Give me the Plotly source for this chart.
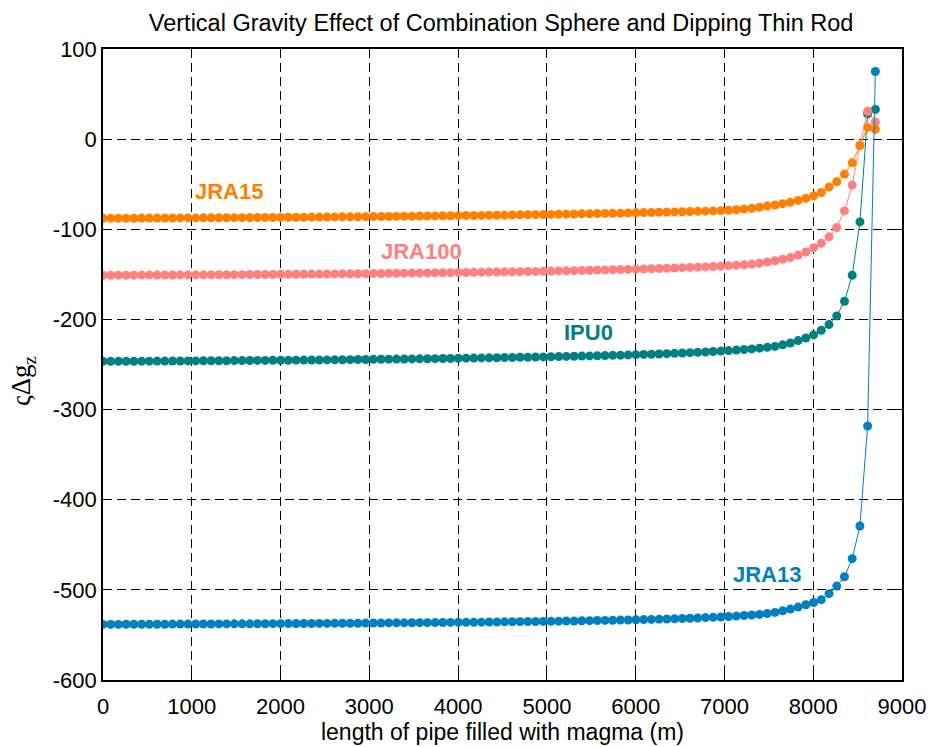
import plotly.graph_objects as go

# Sampling grid along the pipe (m): 101 stations, 87 m apart
length_m = list(range(0, 8701, 87))

jra15 = [
    -87.8, -87.8, -87.7, -87.7, -87.7, -87.6, -87.6, -87.6, -87.5, -87.5,
    -87.4, -87.4, -87.4, -87.3, -87.3, -87.2, -87.2, -87.1, -87.1, -87.0,
    -87.0, -86.9, -86.9, -86.8, -86.7, -86.7, -86.6, -86.5, -86.5, -86.4,
    -86.3, -86.2, -86.2, -86.1, -86.0, -85.9, -85.8, -85.8, -85.7, -85.6,
    -85.5, -85.4, -85.3, -85.2, -85.1, -85.0, -84.9, -84.8, -84.7, -84.6,
    -84.5, -84.4, -84.3, -84.1, -84.0, -83.9, -83.8, -83.6, -83.5, -83.4,
    -83.2, -83.1, -82.9, -82.8, -82.6, -82.4, -82.3, -82.1, -81.9, -81.7,
    -81.5, -81.3, -81.1, -80.9, -80.7, -80.5, -80.3, -80.1, -79.9, -79.6,
    -79.3, -78.9, -78.3, -77.6, -76.7, -75.6,
    -74.3, -73.0, -71.6, -69.9, -68.0, -65.7, -62.9, -59.2, -53.2, -47.2,
    -38.8, -26.3, -7.0, 13.0, 10.8,
]

jra100 = [
    -151.0, -151.0, -150.9, -150.9, -150.9, -150.8, -150.8, -150.8, -150.7, -150.7,
    -150.6, -150.6, -150.6, -150.5, -150.5, -150.4, -150.4, -150.3, -150.3, -150.2,
    -150.2, -150.1, -150.1, -150.0, -149.9, -149.9, -149.8, -149.7, -149.7, -149.6,
    -149.5, -149.4, -149.4, -149.3, -149.2, -149.1, -149.0, -148.9, -148.8, -148.7,
    -148.6, -148.5, -148.4, -148.3, -148.2, -148.1, -148.0, -147.9, -147.8, -147.6,
    -147.5, -147.4, -147.2, -147.1, -147.0, -146.8, -146.7, -146.5, -146.4, -146.2,
    -146.0, -145.9, -145.7, -145.5, -145.3, -145.1, -144.9, -144.7, -144.5, -144.2,
    -144.0, -143.7, -143.5, -143.2, -142.9, -142.6, -142.3, -142.0, -141.7, -141.3,
    -140.9, -140.5, -140.0, -139.4, -138.6, -137.6,
    -136.3, -134.9, -133.2, -131.2, -128.6, -125.2, -120.5, -115.5, -108.4, -98.0,
    -79.6, -51.0, -7.0, 31.0, 19.0,
]

ipu0 = [
    -246.5, -246.5, -246.4, -246.4, -246.4, -246.3, -246.3, -246.2, -246.2, -246.1,
    -246.1, -246.0, -246.0, -245.9, -245.9, -245.8, -245.8, -245.7, -245.7, -245.6,
    -245.5, -245.5, -245.4, -245.3, -245.3, -245.2, -245.1, -245.0, -245.0, -244.9,
    -244.8, -244.7, -244.6, -244.5, -244.4, -244.3, -244.2, -244.1, -244.0, -243.9,
    -243.8, -243.7, -243.6, -243.5, -243.4, -243.3, -243.1, -243.0, -242.9, -242.7,
    -242.6, -242.5, -242.3, -242.2, -242.0, -241.9, -241.7, -241.6, -241.4, -241.2,
    -241.0, -240.9, -240.7, -240.5, -240.3, -240.1, -239.8, -239.6, -239.4, -239.1,
    -238.8, -238.6, -238.3, -238.0, -237.6, -237.3, -236.9, -236.5, -236.1, -235.6,
    -235.1, -234.6, -234.0, -233.4, -232.7, -231.9,
    -231.0, -229.9, -228.2, -226.1, -223.5, -220.6, -217.2, -212.0, -205.7, -196.1,
    -179.8, -151.0, -91.8, 28.0, 33.0,
]

jra13 = [
    -538.3, -538.3, -538.3, -538.2, -538.2, -538.2, -538.1, -538.1, -538.1, -538.0,
    -538.0, -538.0, -537.9, -537.9, -537.9, -537.8, -537.8, -537.7, -537.7, -537.7,
    -537.6, -537.6, -537.5, -537.5, -537.4, -537.4, -537.3, -537.3, -537.2, -537.2,
    -537.1, -537.1, -537.0, -537.0, -536.9, -536.8, -536.8, -536.7, -536.6, -536.6,
    -536.5, -536.4, -536.4, -536.3, -536.2, -536.1, -536.0, -536.0, -535.9, -535.8,
    -535.7, -535.6, -535.5, -535.4, -535.3, -535.2, -535.1, -535.0, -534.9, -534.7,
    -534.6, -534.5, -534.3, -534.2, -534.0, -533.9, -533.7, -533.5, -533.4, -533.2,
    -533.0, -532.8, -532.5, -532.3, -532.0, -531.8, -531.5, -531.2, -530.8, -530.5,
    -530.1, -529.6, -529.1, -528.5, -527.9, -527.2,
    -526.2, -525.0, -523.3, -521.3, -519.1, -516.5, -514.0, -510.9, -504.2, -495.8,
    -485.4, -465.4, -429.2, -318.2, 75.0,
]

# (name, values, colour, label x, label y) — drawn in this order
series = [
    ("IPU0", ipu0, "#008080", 5470, -215),
    ("JRA100", jra100, "#FF8080", 3590, -125),
    ("JRA15", jra15, "#FF8000", 1420, -58),
    ("JRA13", jra13, "#0080C0", 7480, -483),
]

x_ticks = [0, 1000, 2000, 3000, 4000, 5000, 6000, 7000, 8000, 9000]
y_ticks = [100, 0, -100, -200, -300, -400, -500, -600]

SANS = "Liberation Sans, Arial"

fig = go.Figure()
for name, vals, color, lx, ly in series:
    fig.add_trace(go.Scatter(
        x=length_m, y=vals, mode="lines+markers", name=name,
        line=dict(color=color, width=1),
        marker=dict(color=color, size=9),
        showlegend=False,
    ))
    fig.add_annotation(
        x=lx, y=ly, text=f"<b>{name}</b>", showarrow=False,
        font=dict(family=SANS, size=22, color=color),
    )

axis_common = dict(
    showline=True, linecolor="black", linewidth=1.5, mirror="ticks",
    ticks="inside", ticklen=6, tickcolor="black", tickwidth=1,
    showgrid=True, gridcolor="black", gridwidth=1, griddash="9px,5px",
    zeroline=False, automargin=False,
    tickfont=dict(family=SANS, size=22, color="black"),
)

fig.update_xaxes(
    range=[0, 9000], tickvals=x_ticks, ticktext=[str(v) for v in x_ticks],
    ticklabelstandoff=6,
    title=dict(text="length of pipe filled with magma (m)",
               font=dict(family=SANS, size=23, color="black"),
               standoff=6),
    **axis_common,
)
fig.update_yaxes(
    range=[-600, 100], tickvals=y_ticks, ticktext=[str(v) for v in y_ticks],
    **axis_common,
)

# y-axis title, placed as a rotated annotation
fig.add_annotation(
    xref="paper", yref="paper", x=-0.1, y=0.474,
    xanchor="center", yanchor="middle",
    text="ςΔg<sub>z</sub>", textangle=-90, showarrow=False,
    font=dict(family="Liberation Serif, Times New Roman", size=27, color="black"),
)

fig.update_layout(
    width=928, height=747,
    margin=dict(l=103, r=26, t=49, b=67),
    paper_bgcolor="white", plot_bgcolor="white",
    title=dict(text="Vertical Gravity Effect of Combination Sphere and Dipping Thin Rod",
               font=dict(family=SANS, size=23.5, color="black"),
               x=0.54, xanchor="center", y=0.97, yanchor="middle"),
)

fig.write_html("out.html")
